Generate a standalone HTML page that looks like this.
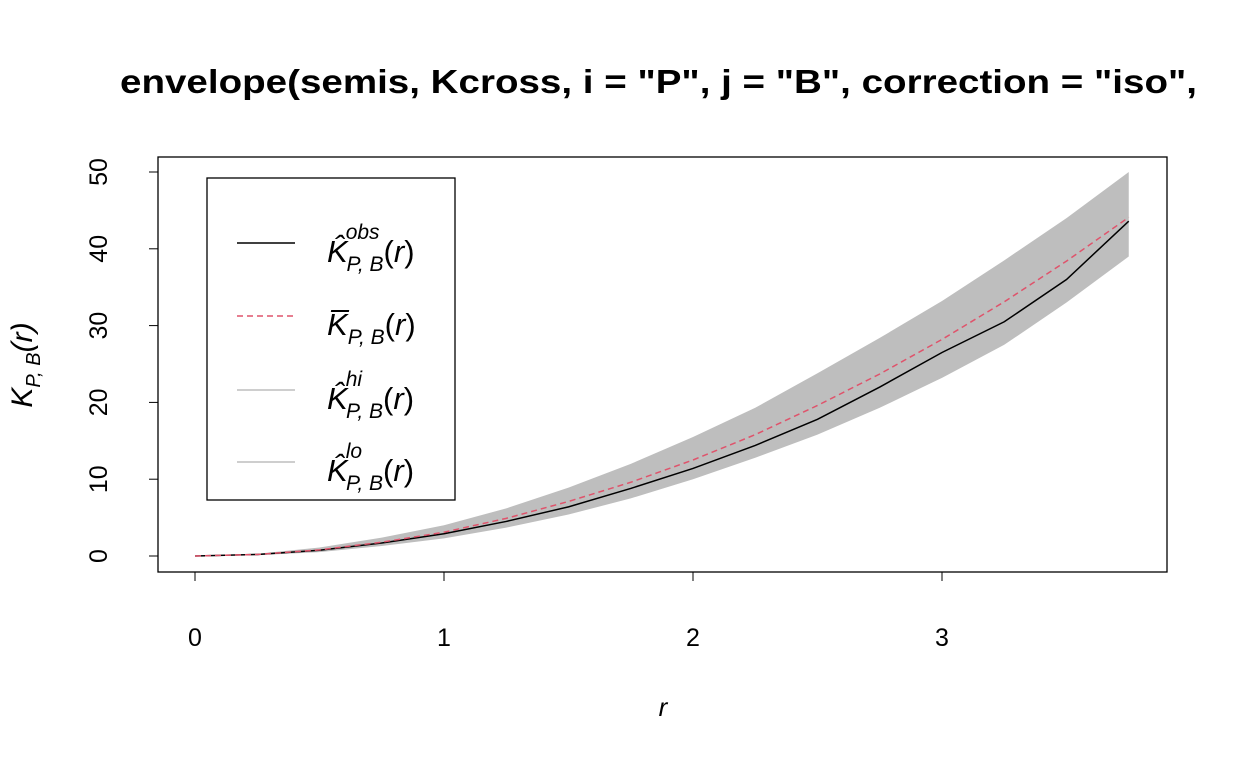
<!DOCTYPE html>
<html><head><meta charset="utf-8"><style>
body{margin:0;background:#fff;}
svg text{font-family:"Liberation Sans",sans-serif;}
</style></head><body>
<svg id="chart" width="1248" height="768">
<text x="120" y="93" textLength="1077" lengthAdjust="spacingAndGlyphs" font-size="33" font-weight="bold">envelope(semis, Kcross, i = "P", j = "B", correction = "iso",</text>
<g id="plot"></g>
<rect x="158" y="157" width="1009" height="415" fill="none" stroke="#000" stroke-width="1.3"/>
<g id="axes"></g>
<text x="663" y="716" text-anchor="middle" font-size="26" font-style="italic">r</text>
<text transform="translate(32,365) rotate(-90)" text-anchor="middle" font-size="30" font-style="italic">K<tspan font-size="20" dy="8">P, B</tspan><tspan dy="-8">(r)</tspan></text>
<g>
<rect x="207" y="178" width="248" height="322" fill="#fff" stroke="#000" stroke-width="1.3"/>
<line x1="237" y1="243" x2="295" y2="243" stroke="#000" stroke-width="1.5"/>
<line x1="237" y1="316" x2="295" y2="316" stroke="#DF536B" stroke-width="1.5" stroke-dasharray="6,4"/>
<line x1="237" y1="390" x2="295" y2="390" stroke="#bebebe" stroke-width="1.5"/>
<line x1="237" y1="462" x2="295" y2="462" stroke="#bebebe" stroke-width="1.5"/>
<g font-size="31" font-style="italic">
<text x="327" y="262">K̂<tspan font-size="21" dx="-2" dy="-23">obs</tspan><tspan font-size="21" dx="-33" dy="32">P, B</tspan><tspan font-style="normal" dy="-9">(</tspan>r<tspan font-style="normal">)</tspan></text>
<text x="327" y="335">K̅<tspan font-size="21" dy="9">P, B</tspan><tspan font-style="normal" dy="-9">(</tspan>r<tspan font-style="normal">)</tspan></text>
<text x="327" y="409">K̂<tspan font-size="21" dx="-2" dy="-23">hi</tspan><tspan font-size="21" dx="-16" dy="32">P, B</tspan><tspan font-style="normal" dy="-9">(</tspan>r<tspan font-style="normal">)</tspan></text>
<text x="327" y="481">K̂<tspan font-size="21" dx="-2" dy="-23">lo</tspan><tspan font-size="21" dx="-16" dy="32">P, B</tspan><tspan font-style="normal" dy="-9">(</tspan>r<tspan font-style="normal">)</tspan></text>
</g>
</g>
</svg>
<script>
const rVals=[0,0.25,0.5,0.75,1,1.25,1.5,1.75,2,2.25,2.5,2.75,3,3.25,3.5,3.75];
const meanVals=[0,0.2,0.8,1.8,3.1,4.9,7.1,9.6,12.5,15.8,19.6,23.7,28.2,33.1,38.4,44.1];
const obsVals=[0,0.2,0.75,1.7,2.9,4.5,6.4,8.8,11.4,14.4,17.8,22.0,26.5,30.5,36.0,43.6];
const hiVals=[0,0.3,1.1,2.4,4.0,6.2,8.9,12.0,15.5,19.3,23.8,28.4,33.2,38.5,44,50];
const loVals=[0,0.1,0.5,1.3,2.3,3.7,5.4,7.5,10.0,12.8,15.8,19.3,23.2,27.5,33,39];
const xTicks=[0,1,2,3];
const yTicks=[0,10,20,30,40,50];
const NS="http://www.w3.org/2000/svg";
const X=v=>195+v*249;
const Y=v=>556-v*7.68;
const plot=document.getElementById('plot'),axes=document.getElementById('axes');
function mk(t,a,p){const e=document.createElementNS(NS,t);for(const k in a)e.setAttribute(k,a[k]);p.appendChild(e);return e;}
let d='M'+rVals.map((r,i)=>X(r)+','+Y(hiVals[i])).join('L');
for(let i=rVals.length-1;i>=0;i--)d+='L'+X(rVals[i])+','+Y(loVals[i]);
const band=mk('path',{d:d+'Z',fill:'#bebebe'},plot);


const obs=mk('polyline',{points:rVals.map((r,i)=>X(r)+','+Y(obsVals[i])).join(' '),fill:'none',stroke:'#000','stroke-width':1.5},plot);


const mean=mk('polyline',{points:rVals.map((r,i)=>X(r)+','+Y(meanVals[i])).join(' '),fill:'none',stroke:'#DF536B','stroke-width':1.5,'stroke-dasharray':'6,4'},plot);


mk('line',{x1:X(0),x2:X(3),y1:572,y2:572,stroke:'#000'},axes);
xTicks.forEach(v=>{mk('line',{x1:X(v),x2:X(v),y1:572,y2:581,stroke:'#000'},axes);
const t=mk('text',{x:X(v),y:646,'text-anchor':'middle','font-size':25},axes);t.textContent=v;

});
mk('line',{x1:158,x2:158,y1:Y(0),y2:Y(50),stroke:'#000'},axes);
yTicks.forEach(v=>{mk('line',{x1:149,x2:158,y1:Y(v),y2:Y(v),stroke:'#000'},axes);
const t=mk('text',{transform:`translate(107,${Y(v)}) rotate(-90)`,'text-anchor':'middle','font-size':25},axes);t.textContent=v;

});
</script>
</body></html>
